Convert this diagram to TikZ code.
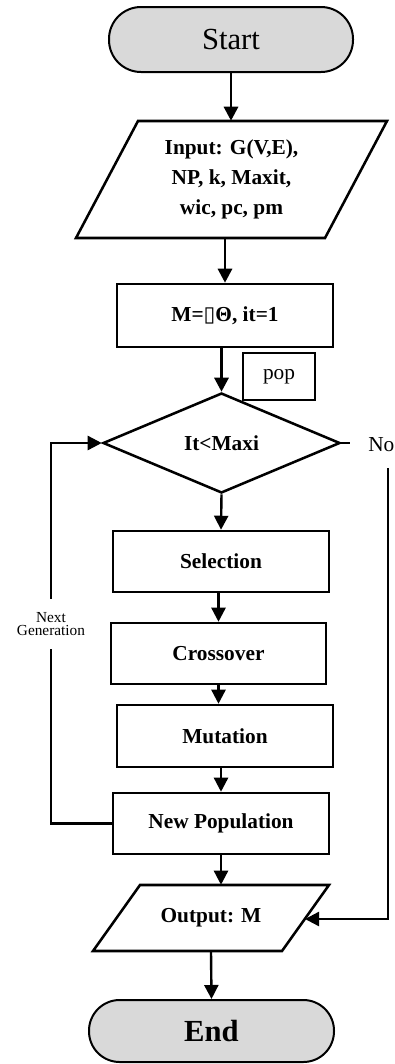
\documentclass[tikz,border=0pt]{standalone}
\usepackage{fontspec}
\setmainfont{Liberation Serif}
\newfontfamily\dejavu{DejaVu Sans}
\usetikzlibrary{arrows.meta,shapes.geometric,calc}
\tikzset{
  boxline/.style={line width=1.9pt},
  procbox/.style={draw, boxline, rectangle, inner sep=0pt, font=\fontsize{16}{19}\selectfont\bfseries},
  termbox/.style={draw, line width=1.5pt, rectangle, fill=termgray, inner sep=0pt},
  arr/.style={line width=2.2pt, -{Triangle[width=10.5pt,length=10.5pt]}},
  arrthin/.style={line width=1.8pt, -{Triangle[width=10.5pt,length=10.5pt]}},
  plainline/.style={line width=1.8pt},
}
\definecolor{termgray}{HTML}{D9D9D9}
\begin{document}
\begin{tikzpicture}[x=0.75pt,y=-0.75pt]
\useasboundingbox (0,0) rectangle (395,1064);

% Start
\node[termbox, rounded corners=24pt, minimum width=183pt, minimum height=48.75pt,
      font=\fontsize{23}{27}\selectfont] (st) at (231,39.5) {Start};

% Input parallelogram
\draw[boxline] (138,121) -- (387,121) -- (325,238) -- (76,238) -- cycle;
\node[align=center, inner sep=0pt, minimum height=87.75pt,
      font=\fontsize{16}{22.5}\selectfont\bfseries] (in) at (231.5,179.5)
      {Input: G(V,E),\\NP, k, Maxit,\\wic, pc, pm};

% M box
\node[procbox, minimum width=162pt, minimum height=47.25pt] (m) at (225,315.5)
      {M={\dejavu\mdseries ▯}Θ, it=1};

% pop box
\node[draw, line width=0.9pt, inner sep=0pt, minimum width=54pt, minimum height=35.25pt,
      font=\fontsize{16}{19}\selectfont] (pop) at (279,376.5) {pop};

% Decision
\node[draw, boxline, diamond, inner sep=0pt, minimum width=177.75pt, minimum height=75pt,
      font=\fontsize{16}{19}\selectfont\bfseries] (dia) at (221.5,443) {It<Maxi};

% Process boxes
\node[procbox, minimum width=162pt, minimum height=45.75pt] (sel) at (221,561.5) {Selection};
\node[procbox, minimum width=161.25pt, minimum height=45.75pt] (cro) at (218.5,653.5) {Crossover};
\node[procbox, minimum width=162pt, minimum height=46.5pt] (mut) at (225,736) {Mutation};
\node[procbox, minimum width=162pt, minimum height=45.75pt] (newp) at (221,823.5) {New Population};

% Output parallelogram
\draw[boxline] (140,885) -- (329,885) -- (282,951) -- (93,951) -- cycle;
\node[inner sep=0pt, minimum height=49.5pt,
      font=\fontsize{16}{19}\selectfont\bfseries] (out) at (211,918) {Output: M};

% End
\node[termbox, rounded corners=23pt, minimum width=183.75pt, minimum height=46.5pt,
      font=\fontsize{23}{27}\selectfont\bfseries] (end) at (211.5,1031) {End};

% Labels
\node[align=center, inner sep=0pt, minimum height=37.5pt,
      font=\fontsize{11.5}{10}\selectfont] (ng) at (51,624) {Next\\Generation};
\node[anchor=west, inner sep=0pt, font=\fontsize{16}{19}\selectfont] (no) at (368,445) {No};

\coordinate (noend) at (350,443);
\coordinate (nodown) at (388,468);
\coordinate (noturn) at (388,919);
\coordinate (outright) at (305,919);

% Main flow
\draw[arr] (st.south) -- (st.south |- in.north);
\draw[arr] (m.north |- in.south) -- (m.north);
\draw[arr] (dia.north |- m.south) -- (dia.north);
\draw[arrthin] (dia.south) -- (sel.north);
\draw[arrthin] (sel.south -| cro.north) -- (cro.north);
\draw[arrthin] (cro.south) -- (cro.south |- mut.north);
\draw[arrthin] (newp.north |- mut.south) -- (newp.north);
\draw[arrthin] (newp.south) -- (newp.south |- out.north);
\draw[arrthin] (out.south) -- (end.north);

% Loop back
\draw[plainline] (newp.west) -| (ng.south);
\draw[arrthin] (ng.north) |- (dia.west);

% No branch
\draw[plainline] (dia.east) -- (noend);
\draw[arrthin] (nodown) -- (noturn) -- (outright);
\end{tikzpicture}
\end{document}
